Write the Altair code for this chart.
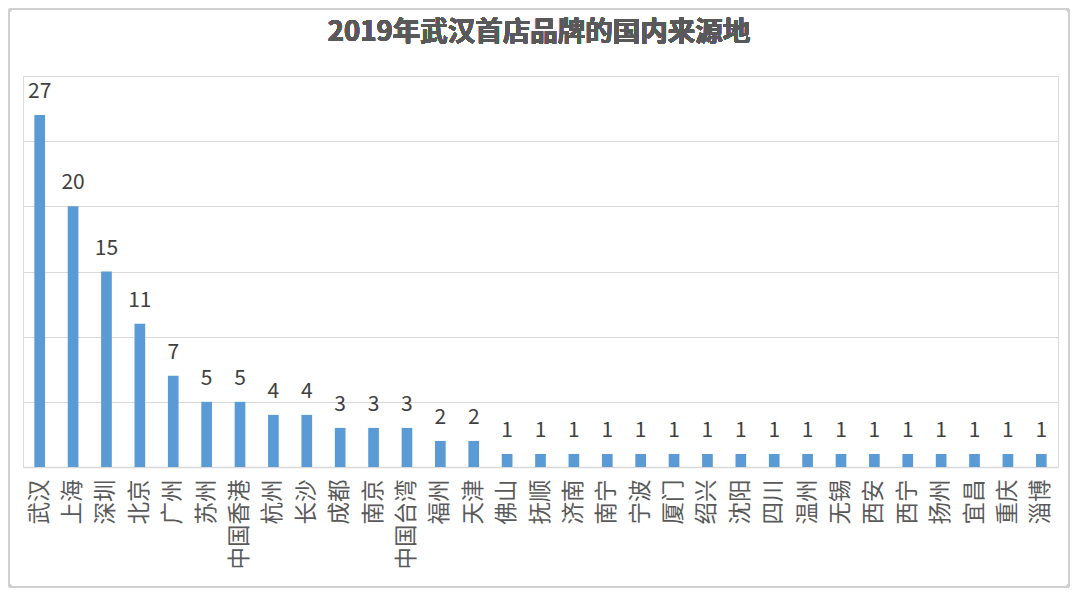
import altair as alt
import pandas as pd

cities = ["武汉", "上海", "深圳", "北京", "广州", "苏州", "中国香港", "杭州", "长沙", "成都",
          "南京", "中国台湾", "福州", "天津", "佛山", "抚顺", "济南", "南宁", "宁波", "厦门",
          "绍兴", "沈阳", "四川", "温州", "无锡", "西安", "西宁", "扬州", "宜昌", "重庆", "淄博"]
counts = [27, 20, 15, 11, 7, 5, 5, 4, 4, 3, 3, 3, 2, 2, 1, 1, 1, 1, 1, 1,
          1, 1, 1, 1, 1, 1, 1, 1, 1, 1, 1]
title_text = "2019年武汉首店品牌的国内来源地"

df = pd.DataFrame({"city": cities, "count": counts})

FONT = "Noto Sans CJK SC"

x = alt.X("city:N", sort=cities, title=None,
          scale=alt.Scale(paddingInner=0.68, paddingOuter=0.34),
          axis=alt.Axis(labelAngle=-90, labelFontSize=22.5, labelColor="#595959",
                        labelFont=FONT, labelPadding=12, ticks=False,
                        domainColor="#d9d9d9", domainWidth=1.5, grid=False))
y = alt.Y("count:Q", title=None,
          scale=alt.Scale(domain=[0, 30]),
          axis=alt.Axis(values=[0, 5, 10, 15, 20, 25, 30], labels=False, ticks=False,
                        domain=False, gridColor="#d9d9d9", gridWidth=1.2))

bars = alt.Chart(df).mark_bar(color="#5B9BD5").encode(x=x, y=y)
text = alt.Chart(df).mark_text(baseline="bottom", dy=-13, fontSize=21, color="#404040",
                               font=FONT).encode(
    x=alt.X("city:N", sort=cities), y="count:Q", text="count:Q")

title = alt.Chart(df).mark_text(text=title_text, fontSize=27.5, font=FONT, fontWeight="bold",
                                color="#595959", baseline="middle", align="center",
                                clip=False).encode(
    x=alt.value(516), y=alt.value(-43))

border = alt.Chart(df).mark_rect(fill=None, stroke="#d0d0d0", strokeWidth=2,
                                 cornerRadius=3, clip=False).encode(
    x=alt.value(-14), x2=alt.value(1046), y=alt.value(-67), y2=alt.value(511))

chart = alt.layer(border, bars, text, title).properties(
    width=1035, height=391,
    padding={"left": 15, "top": 68, "right": 12, "bottom": 121},
    autosize=alt.AutoSizeParams(type="none"),
).configure_view(stroke=None).configure(background="white")

chart.save("out.html", embed_options={"renderer": "svg", "actions": False})
